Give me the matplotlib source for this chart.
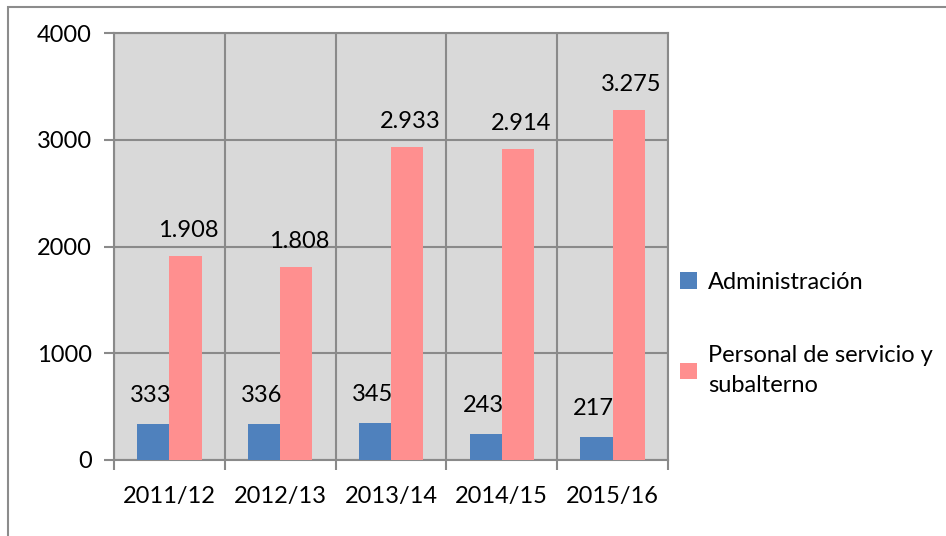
import matplotlib
matplotlib.use("Agg")
import matplotlib.pyplot as plt
import numpy as np
from matplotlib.patches import Rectangle

plt.rcParams['font.family'] = ['Lato', 'DejaVu Sans']

categories = ["2011/12", "2012/13", "2013/14", "2014/15", "2015/16"]
admin = [333, 336, 345, 243, 217]
personal = [1908, 1808, 2933, 2914, 3275]
admin_labels = ["333", "336", "345", "243", "217"]
personal_labels = ["1.908", "1.808", "2.933", "2.914", "3.275"]
series_names = ["Administración", "Personal de servicio y\nsubalterno"]
yticks = [0, 1000, 2000, 3000, 4000]

W, H = 946, 536
fs = 17
fig = plt.figure(figsize=(W/100, H/100), dpi=100)
fig.patches.append(Rectangle((8/W, -0.1), 1.2, (1 - 7/H) + 0.1, transform=fig.transFigure,
                             fill=False, edgecolor='#8c8c8c', linewidth=1.5))

ax = fig.add_axes([114/W, 1 - 460/H, (668-114)/W, (460-33)/H])
ax.set_facecolor('#d9d9d9')
x = np.arange(len(categories))
bw = 0.29
grid_c = '#8a8a8a'
b1 = ax.bar(x - bw/2, admin, bw, color='#4f81bd', zorder=3, label=series_names[0])
b2 = ax.bar(x + bw/2, personal, bw, color='#ff8f8f', zorder=3, label=series_names[1])

for xi, v, t in zip(x, admin, admin_labels):
    ax.annotate(t, (xi - bw/2, v), xytext=(-2, 13), textcoords='offset points',
                ha='center', va='bottom', fontsize=fs, zorder=4)
for xi, v, t in zip(x, personal, personal_labels):
    ax.annotate(t, (xi + bw/2, v), xytext=(2, 11), textcoords='offset points',
                ha='center', va='bottom', fontsize=fs, zorder=4)

ax.set_xlim(-0.5, len(categories) - 0.5)
ax.set_ylim(0, 4000)
ax.set_yticks(yticks)
ax.set_yticklabels([str(v) for v in yticks], fontsize=fs)
ax.set_xticks(x)
ax.set_xticklabels(categories, fontsize=fs)
ax.set_xticks(np.arange(len(categories) + 1) - 0.5, minor=True)
ax.tick_params(axis='x', which='major', length=0, pad=19)
ax.tick_params(axis='x', which='minor', length=7, width=1.5, color=grid_c)
ax.tick_params(axis='y', length=7, width=1.5, color=grid_c, pad=9)
ax.grid(axis='y', color=grid_c, linewidth=1.5, zorder=1)
ax.grid(axis='x', which='minor', color=grid_c, linewidth=1.5, zorder=1)
ax.set_axisbelow(True)
for s in ax.spines.values():
    s.set_color(grid_c)
    s.set_linewidth(1.5)

leg = fig.legend(handles=[b1, b2], labels=series_names, loc='upper left',
                 bbox_to_anchor=(680/W, 1 - 272/H), frameon=False, fontsize=fs,
                 handlelength=0.7, handleheight=0.7, handletextpad=0.5,
                 labelspacing=2.2, borderaxespad=0, borderpad=0)
for t in leg.get_texts():
    t.set_linespacing(1.55)

fig.savefig("out.png", dpi=100)
